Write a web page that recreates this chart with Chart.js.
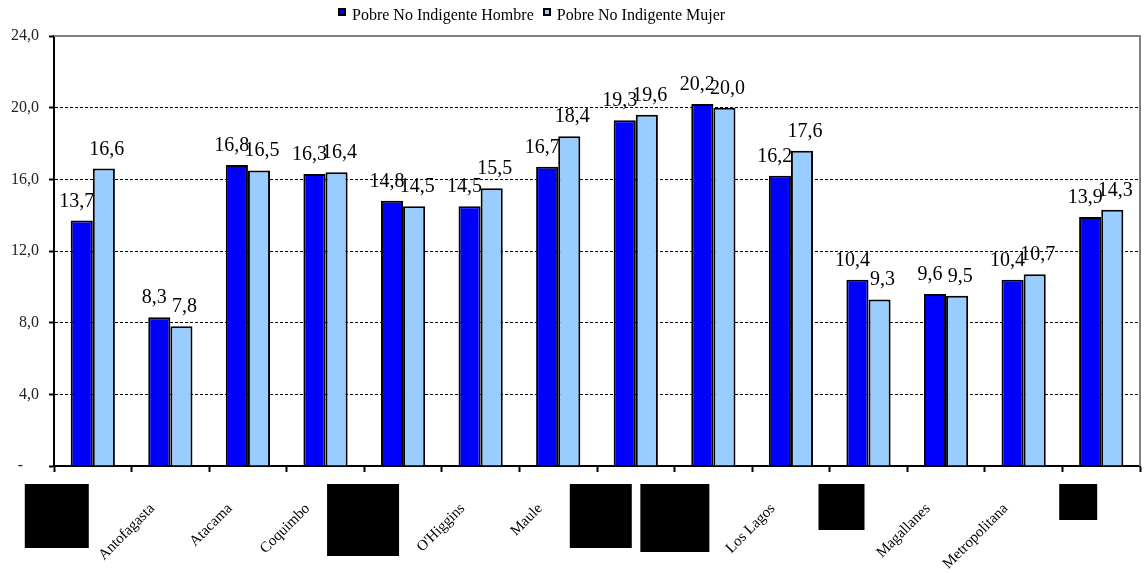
<!DOCTYPE html>
<html>
<head>
<meta charset="utf-8">
<script src="https://cdn.jsdelivr.net/npm/chart.js@4.4.1/dist/chart.umd.min.js"></script>
<style>
    body { margin: 0; background: #fff; }
    #wrap { position: relative; width: 1147px; height: 573px; }
    #legend {
        position: absolute; left: 338px; top: 6px;
        font: 16px 'Liberation Serif', 'Times New Roman', serif;
        display: flex; align-items: center; white-space: nowrap;
    }
    .key { display: inline-block; width: 4px; height: 4px; border: 2px solid #000; margin: 0 6px 0 0; position: relative; top: -4px; }
    .item { margin-right: 9px; }
</style>
</head>
<body>
<div id="wrap">
    <canvas id="chart" width="1147" height="573"></canvas>
    <div id="legend"></div>
</div>
<script>
// categorias (null = etiqueta tapada en la imagen original)
const categories = [null, 'Antofagasta', 'Atacama', 'Coquimbo', null, "O'Higgins", 'Maule',
    null, null, 'Los Lagos', null, 'Magallanes', 'Metropolitana', null];
const seriesNames = ['Pobre No Indigente Hombre', 'Pobre No Indigente Mujer'];
const hombre = [13.7, 8.3, 16.8, 16.3, 14.8, 14.5, 16.7, 19.3, 20.2, 16.2, 10.4, 9.6, 10.4, 13.9];
const mujer  = [16.6, 7.8, 16.5, 16.4, 14.5, 15.5, 18.4, 19.6, 20.0, 17.6, 9.3, 9.5, 10.7, 14.3];
const yTicks = [0, 4, 8, 12, 16, 20, 24];

const colors = ['#0000ff', '#99ccff'];
const serif = "'Liberation Serif', 'Times New Roman', serif";

// cajas negras que tapan etiquetas (ancho, alto)
const redactBoxes = { 0: [64, 64], 4: [72, 72], 7: [62, 64], 8: [69, 68], 10: [46, 46], 13: [38, 36] };

const fmt = v => v.toFixed(1).replace('.', ',');

const dataLabels = {
    id: 'dataLabels',
    afterDatasetsDraw(chart) {
        const ctx = chart.ctx;
        ctx.save();
        ctx.font = '20px ' + serif;
        ctx.fillStyle = '#000';
        ctx.textAlign = 'center';
        ctx.textBaseline = 'alphabetic';
        chart.data.datasets.forEach((ds, d) => {
            chart.getDatasetMeta(d).data.forEach((bar, i) => {
                const shift = d === 0 ? -5 : 3;
                ctx.fillText(fmt(ds.data[i]), bar.x + shift, bar.y - 14);
            });
        });
        ctx.restore();
    }
};

const frame = {
    id: 'frame',
    afterDraw(chart) {
        const { ctx, chartArea: a } = chart;
        ctx.save();
        ctx.strokeStyle = '#808080';
        ctx.lineWidth = 2;
        ctx.beginPath();
        ctx.moveTo(a.left, a.top);
        ctx.lineTo(a.right, a.top);
        ctx.lineTo(a.right, a.bottom);
        ctx.stroke();
        ctx.restore();
    }
};

const redact = {
    id: 'redact',
    afterDraw(chart) {
        const { ctx, chartArea: a } = chart;
        const x = chart.scales.x;
        ctx.save();
        ctx.fillStyle = '#000';
        Object.keys(redactBoxes).forEach(k => {
            const [w, h] = redactBoxes[k];
            const right = x.getPixelForValue(Number(k)) - 4;
            ctx.fillRect(right - w, a.bottom + 18, w, h);
        });
        ctx.restore();
    }
};

// leyenda
const legendEl = document.getElementById('legend');
seriesNames.forEach((name, i) => {
    const item = document.createElement('span');
    item.className = 'item';
    item.innerHTML = '<span class="key" style="background:' + colors[i] + '"></span>' + name;
    legendEl.appendChild(item);
});

const chart = new Chart(document.getElementById('chart'), {
    type: 'bar',
    data: {
        labels: categories.map(c => c || ''),
        datasets: [
            { label: seriesNames[0], data: hombre, backgroundColor: colors[0], borderColor: '#000', borderWidth: 2 },
            { label: seriesNames[1], data: mujer, backgroundColor: colors[1], borderColor: '#000', borderWidth: 2 }
        ]
    },
    options: {
        responsive: false,
        animation: false,
        layout: { padding: { top: 36, right: 7, left: 0, bottom: 0 } },
        datasets: { bar: { categoryPercentage: 0.57, barPercentage: 1.0 } },
        plugins: { legend: { display: false }, tooltip: { enabled: false } },
        scales: {
            x: {
                offset: true,
                grid: { offset: true, drawOnChartArea: false, drawTicks: true, tickLength: 6, tickColor: '#000', tickWidth: 2 },
                border: { color: '#000', width: 2 },
                ticks: {
                    autoSkip: false, maxRotation: 45, minRotation: 45,
                    font: { family: serif, size: 15 }, color: '#000',
                    labelOffset: -18, padding: 28
                },
                afterFit: s => { s.height = 107; }
            },
            y: {
                min: 0, max: 24,
                afterBuildTicks: s => { s.ticks = yTicks.map(v => ({ value: v })); },
                grid: {
                    color: c => (c.tick.value === 0 || c.tick.value === 24) ? 'rgba(0,0,0,0)' : '#000',
                    lineWidth: 1, drawTicks: true, tickLength: 5, tickColor: '#000', tickWidth: 2
                },
                border: { color: '#000', width: 2, dash: [3, 2] },
                ticks: {
                    font: { family: serif, size: 16 }, color: '#222', padding: 10,
                    callback: v => v === 0 ? '-    ' : fmt(v)
                },
                afterFit: s => { s.width = 54; }
            }
        }
    },
    plugins: [dataLabels, frame, redact]
});
</script>
</body>
</html>
